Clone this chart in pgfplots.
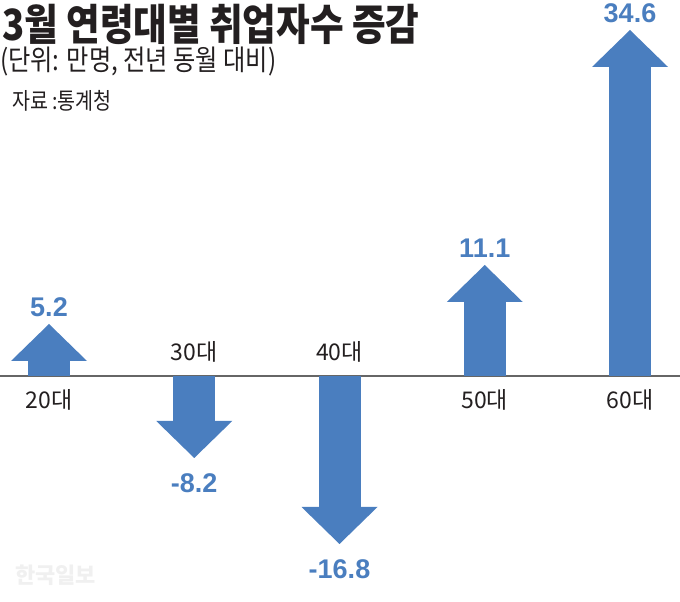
\documentclass[border=0pt]{standalone}
\usepackage{pgfplots}
\pgfplotsset{compat=1.18}
\usetikzlibrary{arrows.meta}
\usepackage{fontspec}
\setmainfont{Liberation Sans}
\newfontfamily\kr[FakeStretch=0.85]{Noto Sans CJK KR}
\newfontfamily\krn{Noto Sans CJK KR}
\definecolor{arrowblue}{HTML}{4A7EBF}
\definecolor{txtdark}{HTML}{231F20}
\begin{document}
\begin{tikzpicture}
\path[use as bounding box] (0,0) rectangle (680pt,602pt);
\begin{axis}[at={(0,0)}, anchor=south west, scale only axis, width=680pt, height=602pt,
  xmin=-0.33735, xmax=4.34423, ymin=-22.6, ymax=37.6, hide axis, clip=false]
\draw[black!60, line width=1.3pt] (axis cs:-0.33735,0) -- (axis cs:4.34423,0);
\addplot[arrowblue, line width=42pt, mark=none, quiver={u=0, v=\thisrow{v}},
  -{Triangle[length=37pt 0 0, width=76pt 0 0, line width=0pt 0 0]}] table {
x y v
0 0 5.2
1 0 -8.2
2 0 -16.8
3 0 11.1
4 0 34.6
};
% value labels, positive
\addplot[draw=none, mark=none, nodes near coords, point meta=explicit symbolic,
  nodes near coords style={font=\bfseries\fontsize{27}{27}\selectfont, text=arrowblue, anchor=south, inner sep=0pt, yshift=7pt}]
  table[meta=lab] {
x y lab
0 5.2 5.2
3 11.1 11.1
4 34.6 34.6
};
% value labels, negative
\addplot[draw=none, mark=none, nodes near coords, point meta=explicit symbolic,
  nodes near coords style={font=\bfseries\fontsize{27}{27}\selectfont, text=arrowblue, anchor=north, inner sep=0pt, yshift=-15pt}]
  table[meta=lab] {
x y lab
1 -8.2 -8.2
2 -16.8 -16.8
};
% category labels below baseline
\addplot[draw=none, mark=none, nodes near coords, point meta=explicit symbolic,
  nodes near coords style={font=\krn\fontsize{23}{23}\selectfont, text=txtdark, anchor=north, inner sep=0pt, yshift=-13pt}]
  table[meta=lab] {
x y lab
0 0 20대
3 0 50대
4 0 60대
};
% category labels above baseline
\addplot[draw=none, mark=none, nodes near coords, point meta=explicit symbolic,
  nodes near coords style={font=\krn\fontsize{23}{23}\selectfont, text=txtdark, anchor=south, inner sep=0pt, yshift=14pt}]
  table[meta=lab] {
x y lab
1 0 30대
2 0 40대
};
\node[anchor=base west, inner sep=0pt, text=txtdark, font=\kr\bfseries\fontsize{43}{43}\selectfont]
  at (rel axis cs:0.00294,0.93189) {3월 연령대별 취업자수 증감};
\node[anchor=base west, inner sep=0pt, text=txtdark, font=\kr\fontsize{28.5}{28.5}\selectfont]
  at (rel axis cs:0,0.88206) {(단위: 만명, 전년 동월 대비)};
\node[anchor=base west, inner sep=0pt, text=txtdark, font=\kr\fontsize{23}{23}\selectfont]
  at (rel axis cs:0.01765,0.81728) {자료 :통계청};
\node[anchor=base west, inner sep=0pt, text=black!6, font=\krn\bfseries\fontsize{22}{22}\selectfont]
  at (rel axis cs:0.02206,0.03156) {한국일보};
\end{axis}
\end{tikzpicture}
\end{document}
